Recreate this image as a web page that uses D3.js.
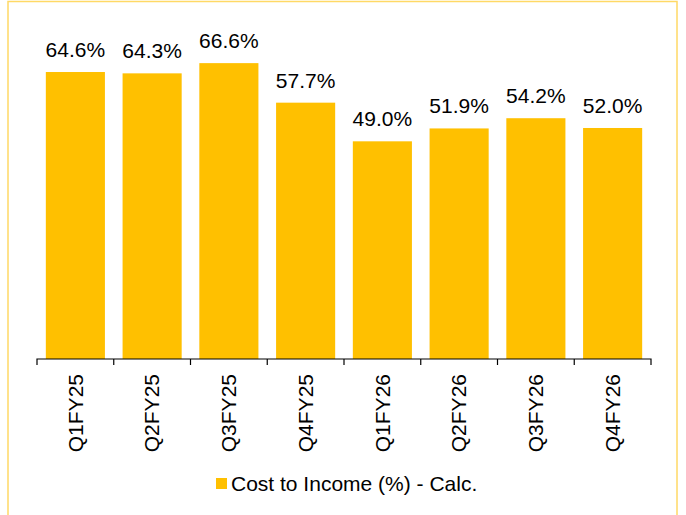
<!DOCTYPE html>
<html><head><meta charset="utf-8">
<script src="https://cdn.jsdelivr.net/npm/d3@7"></script>
<style>html,body{margin:0;padding:0;background:#fff;}svg{display:block;}</style>
</head><body>
<svg id="chart" width="686" height="515"></svg>
<script>
const categories = ["Q1FY25","Q2FY25","Q3FY25","Q4FY25","Q1FY26","Q2FY26","Q3FY26","Q4FY26"];
const costToIncome = [64.6, 64.3, 66.6, 57.7, 49.0, 51.9, 54.2, 52.0];
const seriesName = "Cost to Income (%) - Calc.";

const svg = d3.select("#chart");
const barColor = "#FFC000";

// outer border
svg.append("rect").attr("x", 8).attr("y", 1.5).attr("width", 669).attr("height", 530)
  .attr("fill", "none").attr("stroke", "#FFD966").attr("stroke-width", 1.5);

const x = d3.scaleBand().domain(categories).range([37, 651]).paddingInner(0.23).paddingOuter(0.115);
const xAxisScale = d3.scaleBand().domain(categories).range([37, 651]).padding(0);
const y = d3.scaleLinear().domain([0, 80]).range([359, 3.6]);

svg.append("g").selectAll("rect").data(costToIncome).join("rect")
  .attr("x", (d, i) => x(categories[i]))
  .attr("y", d => y(d))
  .attr("width", x.bandwidth())
  .attr("height", d => y(0) - y(d))
  .attr("fill", barColor);

// data labels
svg.append("g").selectAll("text").data(costToIncome).join("text")
  .attr("x", (d, i) => x(categories[i]) + x.bandwidth() / 2)
  .attr("y", d => y(d) - 15)
  .attr("text-anchor", "middle")
  .style("font-family", "'Liberation Sans Narrow','Arial Narrow',Arial,sans-serif")
  .style("font-size", "21px")
  .attr("fill", "#000")
  .text(d => d.toFixed(1) + "%");

// x axis
const axis = d3.axisBottom(xAxisScale).tickSize(0).tickFormat(d => d);
const gx = svg.append("g").attr("transform", `translate(0,${y(0)})`).call(axis);
gx.select(".domain").attr("stroke", "#000").attr("stroke-width", 1.2).attr("d", `M37,6V0H651V6`);
gx.selectAll(".tick text")
  .attr("transform", "rotate(-90)")
  .attr("x", -15).attr("y", 0).attr("dy", "0.35em")
  .attr("text-anchor", "end")
  .style("font-family", "'Liberation Sans',Arial,sans-serif")
  .style("font-size", "21px")
  .attr("fill", "#000");
// boundary ticks
const bounds = categories.slice(1).map(c => xAxisScale(c));
gx.selectAll("line.bound").data(bounds).join("line").attr("class", "bound")
  .attr("x1", d => d).attr("x2", d => d).attr("y1", 0).attr("y2", 6)
  .attr("stroke", "#000").attr("stroke-width", 1.2);

// legend
const lg = svg.append("g");
lg.append("rect").attr("x", 216).attr("y", 478).attr("width", 11).attr("height", 11).attr("fill", barColor);
lg.append("text").attr("x", 231).attr("y", 490.5)
  .style("font-family", "'Liberation Sans',Arial,sans-serif").style("font-size", "21px")
  .attr("fill", "#000").text(seriesName);
</script>
</body></html>
